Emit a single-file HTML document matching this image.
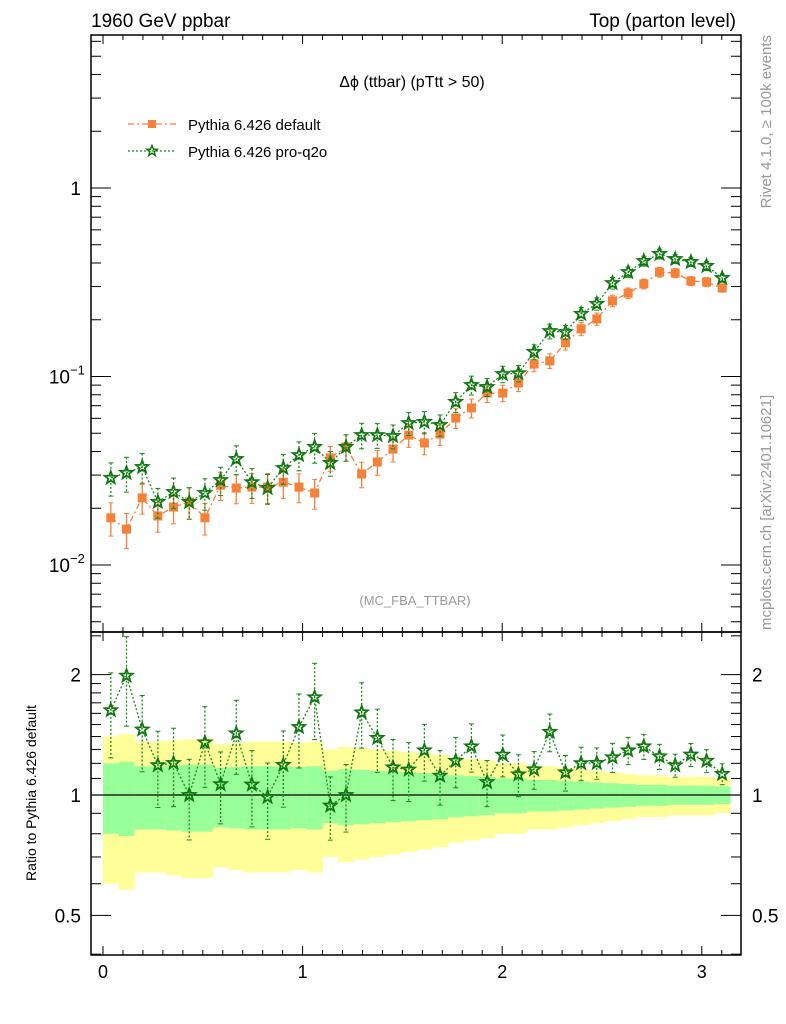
<!DOCTYPE html>
<html><head><meta charset="utf-8"><style>
html,body{margin:0;padding:0;background:#fff}
svg{display:block;font-family:"Liberation Sans",sans-serif}
</style></head><body>
<svg id="c" width="786" height="1024" viewBox="0 0 786 1024">
<text x="91" y="27" font-size="19">1960 GeV ppbar</text>
<text x="736" y="27" font-size="19" text-anchor="end">Top (parton level)</text>
<text x="412" y="87" font-size="16" text-anchor="middle">Δϕ (ttbar) (pTtt &gt; 50)</text>
<text x="415" y="605" font-size="13" fill="#999" text-anchor="middle">(MC_FBA_TTBAR)</text>
<text transform="translate(771,35) rotate(-90)" font-size="15" fill="#999" text-anchor="end">Rivet 4.1.0, ≥ 100k events</text>
<text transform="translate(771,630) rotate(-90)" font-size="15" fill="#999">mcplots.cern.ch [arXiv:2401.10621]</text>
<text transform="translate(36,793) rotate(-90)" font-size="14" text-anchor="middle">Ratio to Pythia 6.426 default</text>
<g>
<g>
<line x1="128" y1="124" x2="176" y2="124" stroke="#f5813a" stroke-width="1.3" stroke-dasharray="6,3,2,3"/>
<rect x="148" y="120" width="8" height="8" fill="#f5813a"/>
<text x="188" y="130" font-size="15">Pythia 6.426 default</text></g>
<g>
<line x1="128" y1="151" x2="176" y2="151" stroke="#1a8a1a" stroke-width="1.3" stroke-dasharray="2,2"/>
<path id="legstar" fill="none" stroke="#117711" stroke-width="1.5"/>
<text x="188" y="157" font-size="15">Pythia 6.426 pro-q2o</text></g>
</g>
</svg>
<script>
const defaultVals=[0.0178,0.0155,0.0227,0.0182,0.0203,0.0216,0.0178,0.0265,0.0256,0.0259,0.0259,0.0275,0.0259,0.0241,0.0370,0.0423,0.0304,0.0352,0.0412,0.0489,0.0444,0.0495,0.0602,0.0681,0.0817,0.0817,0.0924,0.1165,0.121,0.151,0.179,0.202,0.252,0.277,0.310,0.358,0.354,0.321,0.317,0.295];
const proq2oVals=[0.0290,0.0308,0.0331,0.0216,0.0244,0.0216,0.0241,0.0282,0.0365,0.0275,0.0256,0.0327,0.0383,0.0423,0.0348,0.0423,0.0489,0.0489,0.0483,0.0566,0.0574,0.0553,0.0733,0.0901,0.0880,0.103,0.104,0.135,0.174,0.172,0.215,0.243,0.313,0.358,0.410,0.447,0.420,0.405,0.386,0.333];
const relErr=[0.20,0.21,0.18,0.18,0.185,0.19,0.19,0.17,0.175,0.18,0.18,0.18,0.175,0.18,0.15,0.16,0.155,0.15,0.145,0.14,0.135,0.13,0.12,0.115,0.11,0.10,0.10,0.09,0.09,0.085,0.08,0.075,0.07,0.065,0.06,0.06,0.055,0.055,0.055,0.05];
const xTicks=[0,1,2,3];
const ratioTicks=[0.5,1,2];
const NS='http://www.w3.org/2000/svg';
const svg=document.getElementById('c');
const L=91,R=741,T=35,MB=632,B=955;
const nb=defaultVals.length, binW=Math.PI/nb;
const X=v=>103+v*199.6;
const Y=v=>188-188.5*Math.log10(v);
const RY=v=>795-400*Math.log10(v);
function el(tag,attrs,parent){const e=document.createElementNS(NS,tag);for(const k in attrs)e.setAttribute(k,attrs[k]);(parent||svg).appendChild(e);return e;}
function star(cx,cy,r){let p='';for(let i=0;i<10;i++){const a=-Math.PI/2+i*Math.PI/5;const rr=i%2?r*0.42:r;p+=(i?'L':'M')+(cx+rr*Math.cos(a)).toFixed(1)+','+(cy+rr*Math.sin(a)).toFixed(1);}return p+'Z';}
document.getElementById('legstar').setAttribute('d',star(152,151,5.5));
// ratio bands
const bands=el('g',{});


for(let i=0;i<nb;i++){
 const x0=X(i*binW),x1=X((i+1)*binW),e=relErr[i];
 const y=el('rect',{x:x0,width:x1-x0+0.5,y:RY(1+2*e),height:RY(Math.max(1-2*e,0.4))-RY(1+2*e),fill:'#ffff99'},bands);
 
 
 const g=el('rect',{x:x0,width:x1-x0+0.5,y:RY(1+e),height:RY(1-e)-RY(1+e),fill:'#99ff99'},bands);
 
 
}
el('line',{x1:L,x2:R,y1:RY(1),y2:RY(1),stroke:'#000','stroke-width':1.3});
// frames
const f1=el('rect',{x:L,y:T,width:R-L,height:MB-T,fill:'none',stroke:'#000','stroke-width':1.5});


const f2=el('rect',{x:L,y:MB,width:R-L,height:B-MB,fill:'none',stroke:'#000','stroke-width':1.5});


// x ticks
for(let k=0;k<=31;k++){const v=k/10,x=X(v),maj=k%10==0,len=maj?9:5;
 for(const [a,b] of [[T,T+len],[MB,MB-len],[MB,MB+len],[B,B-len]]) el('line',{x1:x,x2:x,y1:a,y2:b,stroke:'#000','stroke-width':1});}
xTicks.forEach(v=>{const t=el('text',{x:X(v),y:978,'font-size':18,'text-anchor':'middle'});t.textContent=v;
 
 });
// main y ticks
for(let d=-3;d<=0;d++)for(let m=1;m<=9;m++){const v=m*Math.pow(10,d),y=Y(v);if(y<T||y>MB)continue;const len=m==1?20:10;
 el('line',{x1:L,x2:L+len,y1:y,y2:y,stroke:'#000'});el('line',{x1:R,x2:R-len,y1:y,y2:y,stroke:'#000'});}
[['1',0],['10',-1],['10',-2]].forEach(([b,d])=>{const t=el('text',{x:d?70:81,y:Y(Math.pow(10,d))+7,'font-size':19,'text-anchor':'end'});t.textContent=b;
 
 
 if(d){const s=el('text',{x:70,y:Y(Math.pow(10,d))-2,'font-size':13});s.textContent='−'+(-d);}});
// ratio y ticks
for(const v of [0.4,0.5,0.6,0.7,0.8,0.9,1,1.1,1.2,1.3,1.4,1.5,1.6,1.7,1.8,1.9,2,2.5]){const y=RY(v);if(y<MB||y>B)continue;const len=(v==0.5||v==1||v==2)?20:10;
 el('line',{x1:L,x2:L+len,y1:y,y2:y,stroke:'#000'});el('line',{x1:R,x2:R-len,y1:y,y2:y,stroke:'#000'});}
ratioTicks.forEach(v=>{for(const [x,a] of [[81,'end'],[752,'start']]){const t=el('text',{x:x,y:RY(v)+7,'font-size':19,'text-anchor':a});t.textContent=v;
 
 }});
// series main
function series(vals,errs,col,dash,marker,name,yf){
 const g=el('g',{});
 
 
 let p='';vals.forEach((v,i)=>{p+=(i?'L':'M')+X((i+0.5)*binW).toFixed(1)+','+yf(v).toFixed(1);});
 el('path',{d:p,fill:'none',stroke:col,'stroke-width':1.3,'stroke-dasharray':dash},g);
 vals.forEach((v,i)=>{const x=X((i+0.5)*binW),e=errs[i];
  el('line',{x1:x,x2:x,y1:yf(v*(1+e)),y2:yf(Math.max(v*(1-e),1e-4)),stroke:col,'stroke-width':1.3,'stroke-dasharray':marker=='sq'?'':'2,2'},g);
  for(const yy of [yf(v*(1+e)),yf(Math.max(v*(1-e),1e-4))]) el('line',{x1:x-2.5,x2:x+2.5,y1:yy,y2:yy,stroke:col,'stroke-width':1},g);
  let m;
  if(marker=='sq') m=el('rect',{x:x-4.5,y:yf(v)-4.5,width:9,height:9,fill:col},g);
  else m=el('path',{d:star(x,yf(v),6.5),fill:'none',stroke:'#117711','stroke-width':1.8},g);
  
  
 });
}
series(defaultVals,relErr,'#f5813a','6,3,2,3','sq','series-default',Y);
series(proq2oVals,relErr,'#1a8a1a','2,2','star','series-proq2o',Y);
const ratioVals=proq2oVals.map((v,i)=>v/defaultVals[i]);
series(ratioVals,relErr.map(e=>e*1.2),'#1a8a1a','2,2','star','series-ratio',RY);
</script>
</body></html>
